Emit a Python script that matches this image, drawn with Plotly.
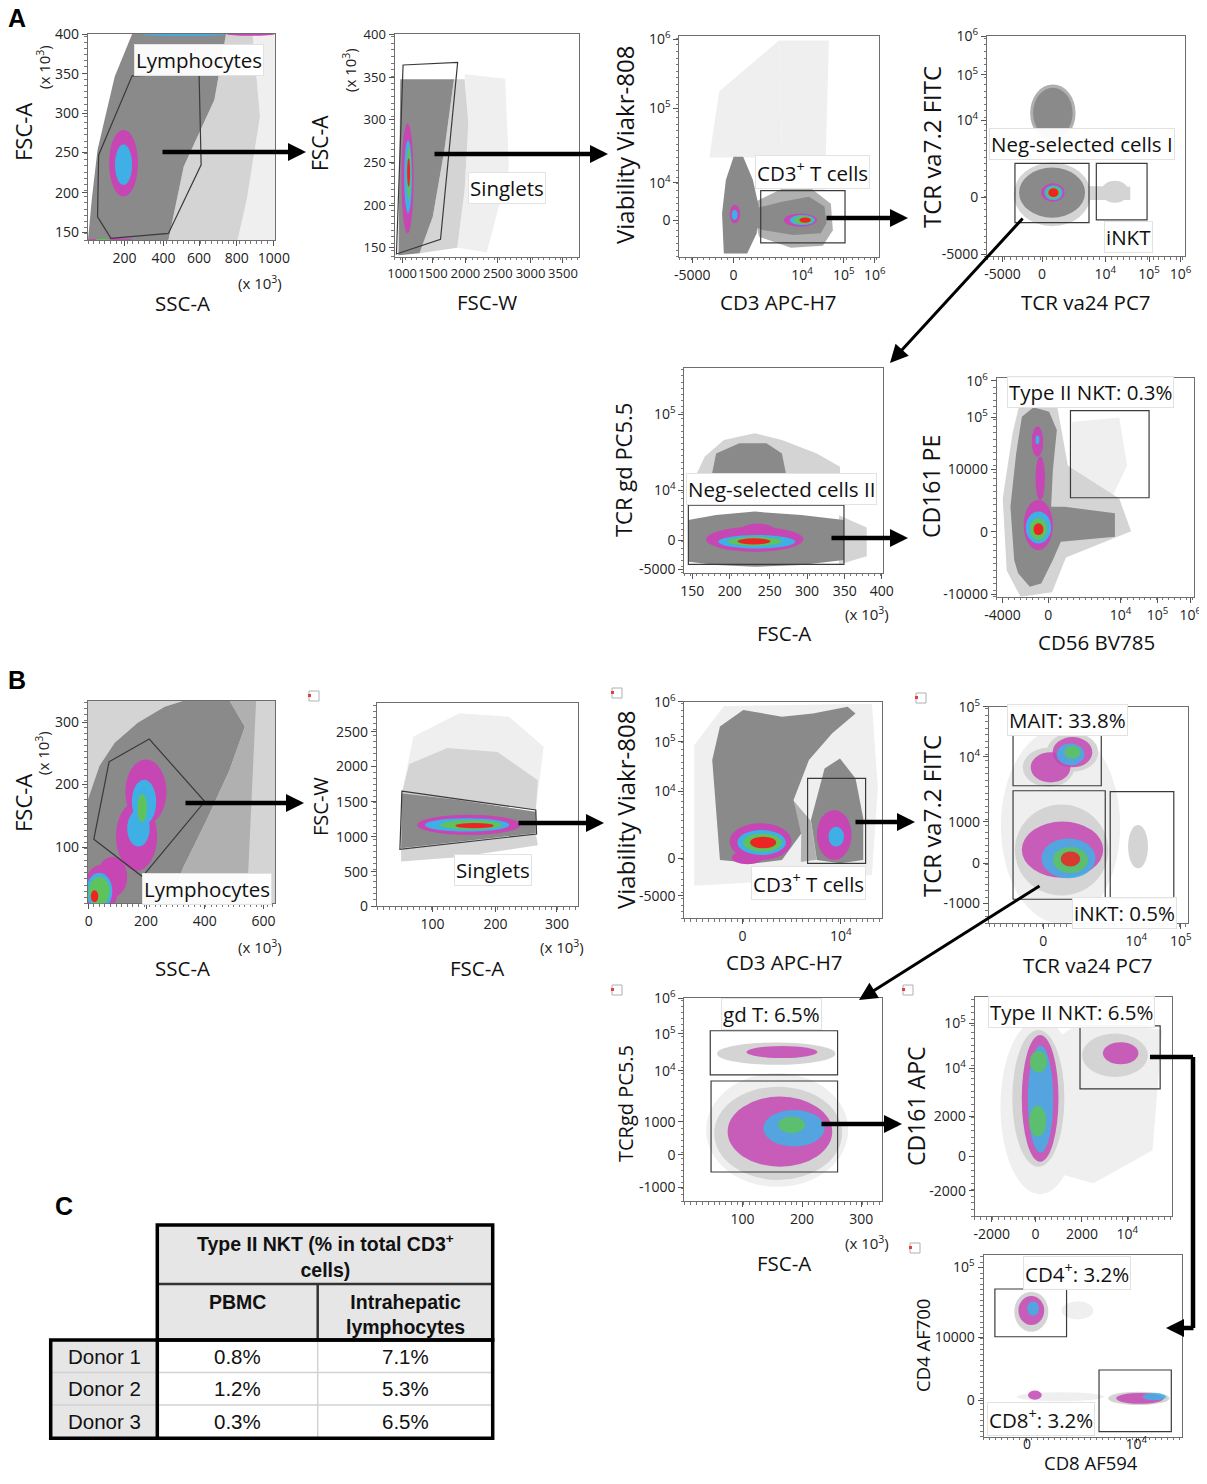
import plotly.graph_objects as go

# target picture size and the page margin the browser adds round the figure
W, H = 1207, 1484
PAGE_MARGIN = 8
FIG_W, FIG_H = W - PAGE_MARGIN, H - 2 * PAGE_MARGIN

# density levels: faint grey, light grey, mid grey, dense grey, magenta, blue, green, red
LEVEL_COLORS = ["#efefef", "#d4d4d4", "#b0b0b0", "#8a8a8a",
                "#c646b4", "#3fb0e6", "#5ec35a", "#ec2424"]

E4, E5, E6 = "10<sup>4</sup>", "10<sup>5</sup>", "10<sup>6</sup>"

# ---------------------------------------------------------------- panel A1
# all axes are in display channels 0-100; tick labels give the scale values
A1_XTITLE, A1_YTITLE = "SSC-A", "FSC-A"
A1_XTICKS = [19.5, 40.4, 59.4, 79.5, 99.4]
A1_XLABELS = ["200", "400", "600", "800", "1000"]
A1_YTICKS = [3.7, 23.0, 42.5, 61.6, 80.7, 100]
A1_YLABELS = ["150", "200", "250", "300", "350", "400"]
A1_CLOUDS = [
    (0, [(88, 100), (100, 100), (100, 0), (80, 0), (85, 20), (92, 60)]),
    (1, [(73.8, 100), (88, 100), (92, 60), (85, 20), (80, 0), (43, 0), (51.2, 35.7), (67.6, 68.1)]),
    (3, [(23.6, 100), (73.8, 100), (67.6, 68.1), (51.2, 35.7), (43, 0), (0, 0),
         (2, 19.4), (5.1, 43.8), (14.3, 79.4)]),
]
A1_RINGS = [(4, 19, 37.3, 7.7, 16.2), (5, 19, 36.5, 4.6, 9.8),
            (5, 51, 100, 23, 0.9), (4, 87, 100, 13, 0.9), (4, 12, 0, 12, 0.9), (6, 8, 0, 4, 0.8)]
A1_GATES = [[(23.6, 79.7), (59.4, 80.7), (60.5, 36.5), (43, 3.2), (12.3, 0.8), (5.1, 11.3), (5.7, 41.3)]]
A1_LABELS = [("Lymphocytes", 59.4, 87.5)]

# ---------------------------------------------------------------- panel A2
A2_XTITLE, A2_YTITLE = "FSC-W", "FSC-A"
A2_XTICKS = [4.1, 20.7, 38.4, 56.0, 73.7, 91.3]
A2_XLABELS = ["1000", "1500", "2000", "2500", "3000", "3500"]
A2_YTICKS = [4.2, 23.2, 42.3, 61.5, 80.5, 100]
A2_YLABELS = ["150", "200", "250", "300", "350", "400"]
A2_CLOUDS = [
    (0, [(38, 82), (60, 80), (62, 40), (50, 2), (34, 4), (38, 30), (40, 60)]),
    (1, [(32.2, 79.8), (38, 79.8), (40, 60), (38, 30), (34, 4), (13.5, 1.5), (20.7, 18), (27, 48)]),
    (3, [(3.1, 79.8), (32.2, 79.8), (27, 48), (20.7, 18), (13.5, 1.5), (2.1, 0.7)]),
]
A2_RINGS = [(4, 7, 35.2, 3.3, 24.7), (5, 7.3, 36, 2.1, 16.5), (6, 7.7, 37.5, 1.1, 12), (7, 7.6, 37.9, 0.8, 6.4)]
A2_GATES = [[(4.6, 86.2), (34.2, 87.4), (24.9, 7.8), (1, 1.2)]]
A2_LABELS = [("Singlets", 61.2, 30.9)]

# ---------------------------------------------------------------- panel A3
A3_XTITLE, A3_YTITLE = "CD3 APC-H7", "Viability Viakr-808"
A3_XTICKS = [6.4, 27.2, 61.6, 82.5, 98.0]
A3_XLABELS = ["-5000", "0", E4, E5, E6]
A3_YTICKS = [16.6, 33.5, 67.2, 98.5]
A3_YLABELS = ["0", E4, E5, E6]
A3_CLOUDS = [
    (0, [(15, 45), (20, 75), (50, 98), (52, 30), (40, 45)]),
    (0, [(50, 98), (75, 98), (73, 30), (52, 30)]),
    (2, [(36, 24), (52, 31), (66, 31), (76, 24), (77, 12), (72, 5), (56, 4), (40, 9)]),
    (3, [(22.3, 1.5), (21.4, 19.6), (23.3, 34.7), (27.2, 45.3), (32, 45.3), (36.9, 34.7),
         (39.8, 22.7), (38.8, 10.6), (34, 1.5)]),
    (3, [(37.9, 21.9), (51.5, 24.9), (65, 27.2), (72.8, 22.7), (73.8, 15.1), (70.9, 10.6),
         (57.3, 9.8), (41.7, 12.1), (37.9, 13.6)]),
]
A3_RINGS = [(4, 27.9, 19.3, 2.6, 4.2), (5, 27.7, 18.9, 1.5, 2.3),
            (4, 60.7, 16.6, 8.3, 3.0), (5, 61.7, 16.6, 6.3, 2.3), (6, 62.1, 16.6, 4.9, 1.8), (7, 63.1, 16.6, 2.9, 1.2)]
A3_GATES = [[(40.8, 29.9), (83.1, 29.9), (83.1, 6.3), (40.8, 6.3)]]
A3_LABELS = [("CD3<sup>+</sup> T cells", 66.6, 38.5)]

# ---------------------------------------------------------------- panel A4
A4_XTITLE, A4_YTITLE = "TCR va24 PC7", "TCR va7.2 FITC"
A4_XTICKS = [7.8, 27.8, 59.8, 82.0, 98.0]
A4_XLABELS = ["-5000", "0", E4, E5, E6]
A4_YTICKS = [0.9, 26.7, 61.8, 82.3, 100]
A4_YLABELS = ["-5000", "0", E4, E5, E6]
A4_CLOUDS = [
    (1, [(47, 31.8), (72.5, 31.5), (72.5, 25.5), (47, 25.5)]),
]
A4_RINGS = [(1, 33, 28, 19.5, 14.5), (3, 32.9, 28.8, 16.7, 11.4), (1, 64.7, 29.2, 7, 5),
            (2, 33.3, 65, 11.5, 13), (3, 33.3, 65, 10, 11.5),
            (4, 33.3, 28.9, 5.9, 4.2), (5, 33.6, 28.8, 4.6, 3.4), (6, 33.6, 28.8, 3.6, 2.7), (7, 33.6, 28.8, 2.6, 2.0)]
A4_GATES = [[(14.1, 42.1), (51.6, 42.1), (51.6, 15.2), (14.1, 15.2)],
            [(55.3, 42.1), (81, 42.1), (81, 16.4), (55.3, 16.4)]]
A4_LABELS = [("Neg-selected cells I", 48, 50.9), ("iNKT", 71.6, 8.5)]

# ---------------------------------------------------------------- panel A5
A5_XTITLE, A5_YTITLE = "FSC-A", "TCR gd PC5.5"
A5_XTICKS = [3.9, 22.9, 43.0, 61.9, 80.9, 99.6]
A5_XLABELS = ["150", "200", "250", "300", "350", "400"]
A5_YTICKS = [1.6, 15.9, 40.3, 77.4]
A5_YLABELS = ["-5000", "0", E4, E5]
A5_CLOUDS = [
    (1, [(6.3, 48.5), (10.2, 56.6), (19.9, 64.7), (35.5, 68), (49.2, 64.7), (66.8, 58.2), (78.5, 51.7), (78.5, 48.5)]),
    (3, [(14, 48.5), (16, 58.2), (27.7, 63.1), (41.4, 63.1), (49.2, 58.2), (51.2, 48.5)]),
    (1, [(78, 28), (92, 22), (92, 8), (78, 4)]),
    (3, [(2, 25.7), (16, 28.1), (35.5, 29.8), (59, 28.1), (80.5, 25.7), (80.5, 6.2), (59, 3.7),
         (35.5, 2.9), (16, 3.7), (2, 5.4)]),
]
A5_RINGS = [(4, 35.5, 16.3, 24.5, 6.1), (4, 37, 19, 10, 5), (5, 36.5, 15.1, 19.5, 3.3),
            (6, 35.5, 15.3, 13.7, 2.2), (7, 35.1, 15.3, 8.3, 1.5)]
A5_GATES = [[(2, 33), (80.5, 33), (80.5, 4.1), (2, 4.1)]]
A5_LABELS = [("Neg-selected cells II", 49.2, 40.8)]

# ---------------------------------------------------------------- panel A6
A6_XTITLE, A6_YTITLE = "CD56 BV785", "CD161 PE"
A6_XTICKS = [2.9, 26.1, 62.7, 81.4, 98.0]
A6_XLABELS = ["-4000", "0", E4, E5, E6]
A6_YTICKS = [1.2, 29.8, 58.3, 82.1, 98.8]
A6_YLABELS = ["-10000", "0", "10000", E5, E6]
A6_CLOUDS = [
    (0, [(38, 80), (62, 82), (66, 60), (58, 45), (38, 45)]),
    (1, [(5, 12), (3, 45), (8, 75), (12, 90), (30, 90), (36, 60), (62, 45), (68, 30), (35, 18), (28, 2), (12, 0)]),
    (3, [(8.8, 16.8), (6.9, 41.2), (9.8, 65.6), (12.7, 82.4), (18.6, 86.7), (26.5, 84.7), (30.4, 76.3),
         (28.4, 58), (27.5, 41.2), (34.3, 41.2), (59.8, 38.2), (59.8, 27.5), (32.4, 25.2), (28.4, 16.8),
         (22.5, 6.1), (16.7, 4.6), (10.8, 10.7)]),
]
A6_RINGS = [(4, 20.6, 71, 2.9, 6.9), (4, 22, 54.2, 2.4, 10), (4, 21, 32.8, 7.4, 11.5), (5, 20.6, 71.8, 1, 2),
            (5, 21.1, 31.7, 6.4, 7.3), (6, 21.1, 31, 4.4, 5), (7, 21.1, 30.9, 2.5, 2.7)]
A6_GATES = [[(37.3, 85.2), (77.1, 85.2), (77.1, 45.3), (37.3, 45.3)]]
A6_LABELS = [("Type II NKT: 0.3%", 47.6, 93.6)]

# ---------------------------------------------------------------- panel B1
B1_XTITLE, B1_YTITLE = "SSC-A", "FSC-A"
B1_XTICKS = [0.4, 31.1, 62.5, 93.9]
B1_XLABELS = ["0", "200", "400", "600"]
B1_YTICKS = [27.6, 58.7, 89.3]
B1_YLABELS = ["100", "200", "300"]
B1_CLOUDS = [
    (1, [(0, 51.3), (0, 100), (51.2, 100), (41, 97), (26.6, 89.1), (14.3, 79.3), (6.1, 67.8)]),
    (2, [(75.8, 100), (100, 100), (100, 0), (43, 0), (51.2, 18.1), (63.5, 41.1), (75.8, 65.8), (84, 87.2)]),
    (1, [(90, 100), (100, 100), (100, 0), (85, 0)]),
    (3, [(0, 0), (0, 51.3), (6.1, 67.8), (14.3, 79.3), (26.6, 89.1), (41, 97), (51.2, 100), (75.8, 100),
         (84, 87.2), (75.8, 65.8), (63.5, 41.1), (51.2, 18.1), (43, 0)]),
]
B1_RINGS = [(4, 31, 55, 11, 16), (4, 26, 33, 11, 17), (4, 13, 13, 8, 10), (4, 7, 7, 9, 12),
            (5, 30, 50, 6.5, 11), (5, 27, 37, 6, 9), (5, 6, 6, 7, 9),
            (6, 29, 47, 2.5, 7), (6, 6, 6, 5.5, 7), (7, 3.5, 3.5, 2, 3)]
B1_GATES = [[(11.3, 69.9), (32.8, 81.1), (62.5, 50.2), (29.1, 13.2), (3.1, 31.6)]]
B1_LABELS = [("Lymphocytes", 63.5, 7.1)]

# ---------------------------------------------------------------- panel B2
B2_XTITLE, B2_YTITLE = "FSC-A", "FSC-W"
B2_XTICKS = [27.6, 59.0, 89.5]
B2_XLABELS = ["100", "200", "300"]
B2_YTICKS = [0, 16.9, 34.2, 51.5, 68.8, 86.0]
B2_YLABELS = ["0", "500", "1000", "1500", "2000", "2500"]
B2_CLOUDS = [
    (0, [(12.4, 55.6), (18.1, 83.6), (41, 95.1), (65.7, 93.4), (82.9, 78.6), (79, 47.4)]),
    (1, [(12.4, 55.6), (16, 70), (35, 78), (60, 76), (80, 62), (79, 47.4)]),
    (1, [(12, 28.5), (41, 31.7), (79, 35.9), (80, 30), (40, 24), (12, 22)]),
    (3, [(12.4, 55.6), (41, 52.3), (79, 46.5), (79, 35.9), (41, 31.7), (12, 28.5)]),
]
B2_RINGS = [(4, 45.7, 40, 25.7, 5), (5, 44.8, 40, 21, 3.3), (6, 46.7, 40, 15.3, 2.3), (7, 48.5, 39.6, 9.5, 1.3)]
B2_GATES = [[(12.4, 56.7), (79, 47.4), (79.4, 35.5), (11.4, 28)]]
B2_LABELS = [("Singlets", 57.7, 17.8)]

# ---------------------------------------------------------------- panel B3
B3_XTITLE, B3_YTITLE = "CD3 APC-H7", "Viability Viakr-808"
B3_XTICKS = [29.4, 79.2]
B3_XLABELS = ["0", E4]
B3_YTICKS = [10.3, 27.7, 58.5, 81.5, 100]
B3_YLABELS = ["-5000", "0", E4, E5, E6]
B3_CLOUDS = [
    (0, [(5, 15), (5, 80), (20, 98), (95, 99), (98, 60), (95, 20), (60, 18)]),
    (2, [(55, 54.6), (64, 45), (67, 27), (59, 26), (59.2, 39.2)]),
    (3, [(18, 26.9), (16.1, 50), (14.1, 73.1), (18, 88.5), (29.8, 96.2), (49.4, 93.1), (65.1, 94.6),
         (82.7, 97.7), (86.7, 94.6), (74.9, 85.4), (63.1, 73.1), (55.3, 54.6), (59.2, 39.2),
         (49.4, 26.9), (35.7, 25.4)]),
    (3, [(67.1, 26.9), (64.1, 45.4), (71, 69.2), (78.8, 73.8), (86.7, 64.6), (90.6, 46.2), (90.6, 26.9), (78.8, 25.4)]),
]
B3_RINGS = [(4, 32, 28, 8, 3), (4, 38.6, 35.4, 15.7, 8.5), (5, 39.1, 35, 12.3, 5.8), (6, 39.6, 35, 9.8, 4.2),
            (7, 39.9, 35, 6.6, 2.7), (4, 75.9, 38.5, 8.8, 11.5), (5, 76.9, 37.7, 3.9, 4.6)]
B3_GATES = [[(62.4, 64.6), (91.8, 64.6), (91.8, 25.4), (62.4, 25.4)]]
B3_LABELS = [("CD3<sup>+</sup> T cells", 63.1, 16.5)]

# ---------------------------------------------------------------- panel B4
B4_XTITLE, B4_YTITLE = "TCR va24 PC7", "TCR va7.2 FITC"
B4_XTICKS = [27.3, 74.1, 96.5]
B4_XLABELS = ["0", E4, E5]
B4_YTICKS = [9.2, 27.7, 46.9, 76.9, 100]
B4_YLABELS = ["-1000", "0", "1000", E4, E5]
B4_CLOUDS = []
B4_RINGS = [(0, 36, 45, 30, 45), (1, 36.5, 33.8, 23.5, 21), (1, 75, 35.4, 5, 10),
            (1, 30, 72, 13, 9), (1, 42, 79, 13, 9), (4, 31, 72, 10, 7), (4, 42, 79, 10, 7),
            (5, 41, 78, 7, 5), (6, 42, 79, 4, 3),
            (4, 37, 34, 20.5, 13), (5, 40, 30, 13.6, 9.2), (6, 41, 29.2, 8.8, 6), (7, 41, 29.7, 4.9, 3.5)]
B4_GATES = [[(12.1, 88), (56.5, 88), (56.5, 63.5), (12.1, 63.5)],
            [(12.1, 61.2), (58.5, 61.2), (58.5, 11.1), (12.1, 11.1)],
            [(61, 60.8), (93, 60.8), (93, 11.5), (61, 11.5)]]
B4_LABELS = [("MAIT: 33.8%", 39.6, 93.8), ("iNKT: 0.5%", 68.2, 4.6)]

# ---------------------------------------------------------------- panel B5
B5_XTITLE, B5_YTITLE = "FSC-A", "TCRgd PC5.5"
B5_XTICKS = [29.4, 59.6, 89.6]
B5_XLABELS = ["100", "200", "300"]
B5_YTICKS = [6.7, 22.7, 39.1, 64.3, 82.4, 100]
B5_YLABELS = ["-1000", "0", "1000", E4, E5, E6]
B5_CLOUDS = []
B5_RINGS = [(0, 47, 35, 36, 28), (1, 47.5, 33.4, 32.4, 23), (1, 46.5, 72.7, 30, 5.5), (4, 49.4, 73.5, 18, 3),
            (4, 48.4, 34.2, 26.5, 17.3), (5, 55.5, 35.9, 15.5, 9), (6, 54.3, 37.5, 6.8, 4.1)]
B5_GATES = [[(13.1, 84), (77.6, 84), (77.6, 62.2), (13.1, 62.2)],
            [(13.5, 59.2), (77.6, 59.2), (77.6, 14.3), (13.5, 14.3)]]
B5_LABELS = [("gd T: 6.5%", 43.9, 92.1)]

# ---------------------------------------------------------------- panel B6
B6_XTITLE, B6_YTITLE = "", "CD161 APC"
B6_XTICKS = [8.6, 30.8, 54.3, 77.3]
B6_XLABELS = ["-2000", "0", "2000", E4]
B6_YTICKS = [11.6, 27.4, 45.7, 67.5, 88.1]
B6_YLABELS = ["-2000", "0", "2000", E4, E5]
B6_CLOUDS = [
    (0, [(40, 80), (55, 90), (95, 85), (90, 30), (60, 15), (40, 20)]),
]
B6_RINGS = [(0, 33, 50, 20, 40), (1, 32.2, 53.8, 13.2, 31.3), (1, 71, 73.5, 16.7, 9.9), (4, 73.9, 74.4, 9, 5),
            (4, 33.1, 53.8, 9.3, 29), (5, 33.3, 53.4, 6.4, 24.4), (6, 32.2, 70.6, 4.4, 5), (6, 31.8, 43.4, 4.4, 7)]
B6_GATES = [[(53.3, 86.9), (93.9, 86.9), (93.9, 58.1), (53.3, 58.1)]]
B6_LABELS = [("Type II NKT: 6.5%", 49, 93.4)]

# ---------------------------------------------------------------- panel B7
B7_XTITLE, B7_YTITLE = "CD8 AF594", "CD4 AF700"
B7_XTICKS = [21.9, 77.1]
B7_XLABELS = ["0", E4]
B7_YTICKS = [20.2, 54.7, 93.2]
B7_YLABELS = ["0", "10000", E5]
B7_CLOUDS = []
B7_RINGS = [(1, 24.1, 68.8, 8.6, 11), (4, 24.1, 69.5, 6.5, 8), (5, 25, 70.5, 3, 4), (0, 47.4, 69.5, 8, 5),
            (0, 38.8, 22, 22, 2.5), (4, 25.9, 22.9, 3.5, 2.5), (1, 78.4, 21.1, 15.5, 3.7),
            (4, 79, 21.1, 12, 3), (5, 86.2, 22, 6, 2)]
B7_GATES = [[(5.7, 81.3), (41.9, 81.3), (41.9, 55), (5.7, 55)],
            [(58.3, 36.7), (94.8, 36.7), (94.8, 2.8), (58.3, 2.8)]]
B7_LABELS = [("CD4<sup>+</sup>: 3.2%", 47.4, 89.9), ("CD8<sup>+</sup>: 3.2%", 28.8, 9.5)]

# ---------------------------------------------------------------- table C
TABLE_HEADER = "<b>Type II NKT (% in total CD3<sup>+</sup><br>cells)</b>"
TABLE_COLUMNS = ["<b>PBMC</b>", "<b>Intrahepatic<br>lymphocytes</b>"]
DONORS = ["Donor 1", "Donor 2", "Donor 3"]
PBMC = ["0.8%", "1.2%", "0.3%"]
INTRAHEPATIC = ["7.1%", "5.3%", "6.5%"]

PANEL_IDS = ["A1", "A2", "A3", "A4", "A5", "A6", "B1", "B2", "B3", "B4", "B5", "B6", "B7"]

# ---------------------------------------------------------------- layout (target pixels)
BOXES = {
    "A1": (88, 34, 275, 240), "A2": (394.6, 34.3, 579, 256.7),
    "A3": (679.4, 36, 878.7, 256.7), "A4": (987.1, 36, 1184.6, 256),
    "A5": (684.4, 367.7, 882.6, 572.7), "A6": (996.8, 378.3, 1194.3, 596.7),
    "B1": (88, 700.7, 274.8, 903.3), "B2": (377, 703.3, 578, 906),
    "B3": (684.4, 701.7, 881.8, 918.3), "B4": (989, 706.7, 1187.7, 923.3),
    "B5": (684.4, 998.3, 881.8, 1201), "B6": (974.8, 997.3, 1172.2, 1216),
    "B7": (983.6, 1255, 1181.6, 1436.7),
}
XTITLE_POS = {"A1": (182, 303), "A2": (487, 302), "A3": (778, 302), "A4": (1086, 302),
              "A5": (784, 633), "A6": (1096, 642), "B1": (182, 968), "B2": (477, 968),
              "B3": (784, 962), "B4": (1088, 965), "B5": (784, 1263), "B7": (1091, 1462)}
XTITLE_SIZE = {"B7": 18.5}
YTITLE_POS = {"A1": (23, 132), "A2": (320, 143), "A3": (625, 145), "A4": (931, 147),
              "A5": (623, 470), "A6": (931, 487), "B1": (23, 803), "B2": (320, 807),
              "B3": (625, 810), "B4": (931, 816), "B5": (625, 1104), "B6": (916, 1107),
              "B7": (922, 1346)}
YTITLE_SIZE = {"A1": 22, "A2": 21, "A3": 24, "A4": 24, "A5": 22, "A6": 23, "B1": 22,
               "B2": 20, "B3": 24, "B4": 24, "B5": 20, "B6": 23, "B7": 18.5}
XTICK_SHIFT = {"B7": -11}
UNIT_POS = [(43, 67, -90), (349, 70, -90), (260, 283, 0), (867, 613, 0),
            (42, 753, -90), (260, 946, 0), (562, 946, 0), (867, 1242, 0)]
ARROWS = [(161, 152, 306, 152, 4.5), (433, 154, 608, 154, 4.5), (825, 218, 908, 218, 4.5),
          (1024, 217, 890, 363, 3), (830, 538, 908, 538, 4.5), (184, 803, 304, 803, 4.5),
          (517, 823, 604, 823, 4.5), (854, 822, 915, 822, 4.5), (1041, 885, 859, 1000, 3),
          (820, 1124, 902, 1124, 4.5), (1195, 1328, 1166, 1328, 4.5)]
ELBOW = [(1150, 1057), (1193, 1057), (1193, 1328)]
ICONS = [(314, 696), (617, 693), (921, 698), (617, 990), (908, 990), (915, 1248)]
SPECKLED = {"B4", "B5", "B6", "B7"}

FONT = "Open Sans"
TFONT = "Liberation Sans"


def px(x, y):
    # target pixel -> paper fraction of the figure sitting inside the page margin
    return (x - PAGE_MARGIN) / FIG_W, 1 - (y - PAGE_MARGIN) / FIG_H


def note(x, y, text, size, family=FONT, angle=0, color="#111"):
    a, b = px(x, y)
    return dict(xref="paper", yref="paper", x=a, y=b, text=text, textangle=angle, showarrow=False,
                xanchor="center", yanchor="middle", font=dict(family=family, size=size, color=color))


fig = go.Figure()
shapes, annotations, axes = [], [], {}

for i, pid in enumerate(PANEL_IDS, start=1):
    g = globals()
    sfx = "" if i == 1 else str(i)
    xr, yr = "x" + sfx, "y" + sfx
    l, t, r, b = BOXES[pid]
    dl, dt = px(l, t)
    dr, db = px(r, b)
    common = dict(range=[0, 100], showline=True, mirror=True, linecolor="#6e6e6e", linewidth=1.2,
                  ticks="outside", ticklen=5, tickcolor="#555", tickangle=0, showgrid=False,
                  zeroline=False, fixedrange=True, tickmode="array", automargin=False,
                  tickfont=dict(family=FONT, size=13 if pid == "A2" else 14, color="#222"),
                  minor=dict(ticks="outside", ticklen=2.5, tickcolor="#777", dtick=3, tick0=0))
    axes["xaxis" + sfx] = dict(domain=[dl, dr], anchor=yr, tickvals=g[pid + "_XTICKS"],
                               ticktext=g[pid + "_XLABELS"], ticklabelstandoff=XTICK_SHIFT.get(pid, 0),
                               **common)
    axes["yaxis" + sfx] = dict(domain=[db, dt], anchor=xr, tickvals=g[pid + "_YTICKS"],
                               ticktext=g[pid + "_YLABELS"], **common)

    for level, poly in g[pid + "_CLOUDS"]:
        fig.add_trace(go.Scatter(x=[p[0] for p in poly], y=[p[1] for p in poly], xaxis=xr, yaxis=yr,
                                 mode="lines", fill="toself", fillcolor=LEVEL_COLORS[level],
                                 line=dict(width=0, color=LEVEL_COLORS[level]),
                                 hoverinfo="skip", showlegend=False))
    # empty trace keeps each subplot alive even without clouds
    fig.add_trace(go.Scatter(x=[], y=[], xaxis=xr, yaxis=yr, showlegend=False))

    op = 0.85 if pid in SPECKLED else 1.0
    for level, cx, cy, rx, ry in g[pid + "_RINGS"]:
        shapes.append(dict(type="circle", xref=xr, yref=yr, x0=cx - rx, x1=cx + rx, y0=cy - ry, y1=cy + ry,
                           fillcolor=LEVEL_COLORS[level], line=dict(width=0), layer="above",
                           opacity=op if level >= 4 else 1.0))
    for gate in g[pid + "_GATES"]:
        path = "M " + " L ".join(f"{x},{y}" for x, y in gate) + " Z"
        shapes.append(dict(type="path", xref=xr, yref=yr, path=path,
                           line=dict(color="#3a3a3a", width=1.2), layer="above"))
    for text, x, y in g[pid + "_LABELS"]:
        annotations.append(dict(xref=xr, yref=yr, x=x, y=y, text=text, showarrow=False,
                                xanchor="center", yanchor="middle",
                                font=dict(family=FONT, size=20.5, color="#111"),
                                bgcolor="rgba(255,255,255,0.96)", bordercolor="#e2e2e2",
                                borderwidth=1, borderpad=1))

    if pid in XTITLE_POS:
        annotations.append(note(*XTITLE_POS[pid], g[pid + "_XTITLE"], XTITLE_SIZE.get(pid, 20.5)))
    annotations.append(note(*YTITLE_POS[pid], g[pid + "_YTITLE"], YTITLE_SIZE[pid], angle=-90))

for ux, uy, ang in UNIT_POS:
    annotations.append(note(ux, uy, "(x 10<sup>3</sup>)", 15, angle=ang, color="#222"))

# gating arrows
for tx, ty, hx, hy, wd in ARROWS:
    x, y = px(hx, hy)
    annotations.append(dict(xref="paper", yref="paper", x=x, y=y, ax=tx - hx, ay=ty - hy,
                            axref="pixel", ayref="pixel", text="", showarrow=True, arrowhead=2,
                            arrowsize=0.8 if wd > 4 else 1.2, arrowwidth=wd, arrowcolor="black"))
for (x0, y0), (x1, y1) in zip(ELBOW[:-1], ELBOW[1:]):
    a0, b0 = px(x0, y0)
    a1, b1 = px(x1, y1)
    shapes.append(dict(type="line", xref="paper", yref="paper", x0=a0, y0=b0, x1=a1, y1=b1,
                       line=dict(color="black", width=4.5)))

# small export icons next to the B plots
for ix, iy in ICONS:
    a0, b0 = px(ix - 5, iy - 5)
    a1, b1 = px(ix + 5, iy + 5)
    shapes.append(dict(type="rect", xref="paper", yref="paper", x0=a0, y0=b0, x1=a1, y1=b1,
                       line=dict(color="#b0b0b0", width=1), fillcolor="white"))
    a0, b0 = px(ix - 6, iy - 2)
    a1, b1 = px(ix - 3, iy + 1)
    shapes.append(dict(type="rect", xref="paper", yref="paper", x0=a0, y0=b0, x1=a1, y1=b1,
                       line=dict(width=0), fillcolor="#e04040"))

# panel letters
for letter, lx, ly in [("A", 17, 18), ("B", 17, 680), ("C", 64, 1206)]:
    annotations.append(note(lx, ly, f"<b>{letter}</b>", 25, family=TFONT, color="black"))

# ---------------------------------------------------------------- table C
TX = [50.7, 157.3, 317.7, 492.7]
TY = [1225, 1284, 1340, 1372.5, 1405, 1438.3]


def rect(x0, y0, x1, y1, fill="rgba(0,0,0,0)", color="black", width=0):
    a0, b0 = px(x0, y0)
    a1, b1 = px(x1, y1)
    shapes.append(dict(type="rect", xref="paper", yref="paper", x0=a0, y0=b0, x1=a1, y1=b1,
                       fillcolor=fill, line=dict(color=color, width=width)))


def line(x0, y0, x1, y1, color, width):
    a0, b0 = px(x0, y0)
    a1, b1 = px(x1, y1)
    shapes.append(dict(type="line", xref="paper", yref="paper", x0=a0, y0=b0, x1=a1, y1=b1,
                       line=dict(color=color, width=width)))


rect(TX[1], TY[0], TX[3], TY[2], fill="#e6e6e6")
rect(TX[0], TY[2], TX[1], TY[5], fill="#e6e6e6")
for yy in TY[3:5]:
    line(TX[0], yy, TX[3], yy, "#d2d2d2", 1.5)
line(TX[2], TY[2], TX[2], TY[5], "#d2d2d2", 1.5)
line(TX[1], TY[1], TX[3], TY[1], "#333", 2.5)
line(TX[2], TY[1], TX[2], TY[2], "#333", 2.5)
rect(TX[1], TY[0], TX[3], TY[2], color="black", width=3.5)
rect(TX[0], TY[2], TX[3], TY[5], color="black", width=3.5)
line(TX[1], TY[2], TX[1], TY[5], "black", 3.5)

annotations.append(note((TX[1] + TX[3]) / 2, 1256, TABLE_HEADER, 19.5, family=TFONT))
annotations.append(note((TX[1] + TX[2]) / 2, 1302, TABLE_COLUMNS[0], 19.5, family=TFONT))
annotations.append(note((TX[2] + TX[3]) / 2, 1314, TABLE_COLUMNS[1], 19.5, family=TFONT))
for k in range(3):
    cy = (TY[2 + k] + TY[3 + k]) / 2
    annotations.append(note((TX[0] + TX[1]) / 2, cy, DONORS[k], 20.5, family=TFONT))
    annotations.append(note((TX[1] + TX[2]) / 2, cy, PBMC[k], 20.5, family=TFONT))
    annotations.append(note((TX[2] + TX[3]) / 2, cy, INTRAHEPATIC[k], 20.5, family=TFONT))

fig.update_layout(width=FIG_W, height=FIG_H, margin=dict(l=0, r=0, t=0, b=0), autosize=False,
                  paper_bgcolor="white", plot_bgcolor="white", showlegend=False,
                  shapes=shapes, annotations=annotations, **axes)

fig.write_html("out.html", config={"displayModeBar": False})
